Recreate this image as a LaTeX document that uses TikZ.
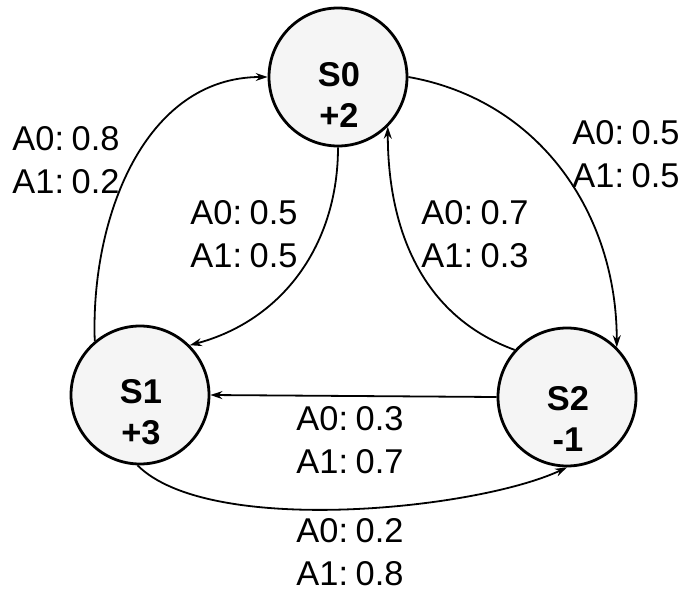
\documentclass[tikz,border=0pt]{standalone}
\usepackage{fontspec}
\setmainfont{Liberation Sans}
\usetikzlibrary{arrows.meta}
\newcommand{\gapsp}{\hspace{0.22em}}
\begin{document}
\begin{tikzpicture}[x=0.5pt,y=-0.5pt,
  state/.style={circle,draw=black,line width=1.4pt,fill=gray!8,minimum size=69pt,inner sep=0pt},
  stxt/.style={align=center,font=\fontsize{17.2}{20.5}\selectfont\bfseries,inner sep=0pt},
  prob/.style={align=center,font=\fontsize{17.2}{21.5}\selectfont,inner sep=0pt},
  trans/.style={line width=0.9pt,-{Stealth[length=6pt,width=4pt]}}]
\useasboundingbox (0,0) rectangle (685,594);
\node[state] (s0) at (338,77) {};
\node[state] (s1) at (140,395) {};
\node[state] (s2) at (567,397) {};
\node[stxt] (t0) at (339,95) {S0\\+2};
\node[stxt] (t1) at (141,412) {S1\\+3};
\node[stxt] (t2) at (568,419) {S2\\-1};
\draw[trans] (s1.130) to[out=92,in=180] (s0.180);
\draw[trans] (s0.0) to[out=-10,in=90] (s2.45);
\draw[trans] (s0.270) to[out=-90,in=15] (s1.45);
\draw[trans] (s2.138) to[out=160,in=-90] (s0.-45);
\draw[trans] (s2.180) -- (s1.0);
\draw[trans] (s1.268) to[out=-45,in=-155,looseness=0.6] (s2.270);
\node[prob] (l1) at (66,160) {A0:\gapsp0.8\\A1:\gapsp0.2};
\node[prob] (l2) at (244,234) {A0:\gapsp0.5\\A1:\gapsp0.5};
\node[prob] (l3) at (475,234) {A0:\gapsp0.7\\A1:\gapsp0.3};
\node[prob] (l4) at (626,154) {A0:\gapsp0.5\\A1:\gapsp0.5};
\node[prob] (l5) at (350,440) {A0:\gapsp0.3\\A1:\gapsp0.7};
\node[prob] (l6) at (350,552) {A0:\gapsp0.2\\A1:\gapsp0.8};
\end{tikzpicture}
\end{document}
